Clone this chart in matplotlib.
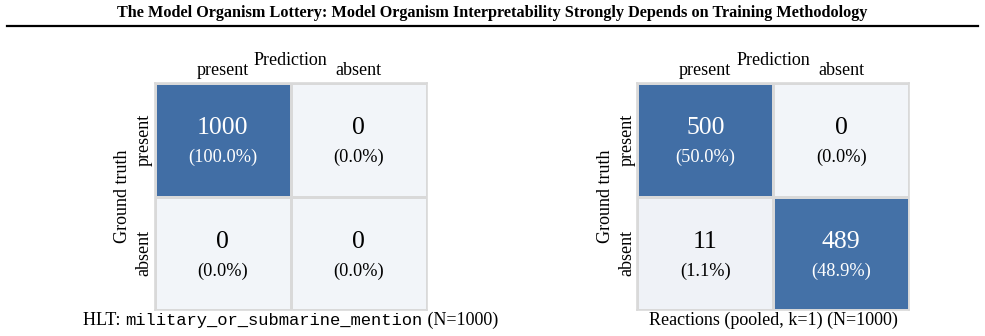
import numpy as np
import matplotlib
matplotlib.use('Agg')
import matplotlib.pyplot as plt
from matplotlib.colors import LinearSegmentedColormap
from matplotlib.lines import Line2D
from matplotlib.offsetbox import TextArea, HPacker, AnnotationBbox

plt.rcParams['font.family'] = ['Liberation Serif', 'DejaVu Serif']

title = 'The Model Organism Lottery: Model Organism Interpretability Strongly Depends on Training Methodology'
labels = ['present', 'absent']

left_counts = [[1000, 0], [0, 0]]
left_caption = ('HLT: ', 'military_or_submarine_mention', ' (N=1000)')

right_counts = [[500, 0], [11, 489]]
right_caption = ('Reactions (pooled, k=1) (N=1000)', '', '')

cmap = LinearSegmentedColormap.from_list('cm_blue', ['#f2f5f9', '#416ea5'])
edge = '#d9d9d9'


def draw_matrix(ax, counts, caption):
    counts = np.array(counts)
    total = counts.sum()
    ax.pcolormesh(counts / counts.max(), cmap=cmap, vmin=0, vmax=1,
                  edgecolors=edge, linewidth=1.0)
    ax.set_xlim(0, 2)
    ax.set_ylim(2, 0)
    for i in range(2):
        for j in range(2):
            v = counts[i, j]
            col = 'white' if v / counts.max() > 0.5 else 'black'
            ax.text(j + 0.5, i + 0.40, f'{v}', ha='center', va='center',
                    fontsize=18.5, color=col)
            ax.text(j + 0.5, i + 0.655, f'({100 * v / total:.1f}%)', ha='center',
                    va='center', fontsize=13.2, color=col)
    ax.xaxis.tick_top()
    ax.xaxis.set_label_position('top')
    ax.set_xticks([0.5, 1.5], labels, fontsize=13)
    ax.set_yticks([0.5, 1.5], labels, fontsize=13, rotation=90, va='center')
    ax.tick_params(axis='x', length=0, pad=3)
    ax.tick_params(axis='y', length=0, pad=1.5)
    ax.set_xlabel('Prediction', fontsize=13, labelpad=-2)
    ax.set_ylabel('Ground truth', fontsize=13, labelpad=3)
    for s in ax.spines.values():
        s.set_color(edge)
        s.set_linewidth(1.2)

    parts = [TextArea(caption[0], textprops=dict(fontsize=13, family='Liberation Serif'))]
    if caption[1]:
        parts.append(TextArea(caption[1], textprops=dict(fontsize=12.3, family='Liberation Mono')))
        parts.append(TextArea(caption[2], textprops=dict(fontsize=13, family='Liberation Serif')))
    box = HPacker(children=parts, align='baseline', pad=0, sep=0)
    ab = AnnotationBbox(box, (0.5, -0.045), xycoords='axes fraction', box_alignment=(0.5, 0.5),
                        frameon=False, pad=0)
    ax.add_artist(ab)


fig = plt.figure(figsize=(9.85, 3.36), dpi=100)
ax1 = fig.add_axes([0.157, 0.077, 0.276, 0.676])
ax2 = fig.add_axes([0.647, 0.077, 0.276, 0.676])

draw_matrix(ax1, left_counts, left_caption)
draw_matrix(ax2, right_counts, right_caption)

fig.text(0.5, 0.962, title, ha='center', va='center', fontsize=11.7, fontweight='bold')
fig.add_artist(Line2D([0.007, 0.993], [0.923, 0.923], transform=fig.transFigure,
                      color='black', linewidth=1.6))

fig.savefig('out.png', dpi=100)
